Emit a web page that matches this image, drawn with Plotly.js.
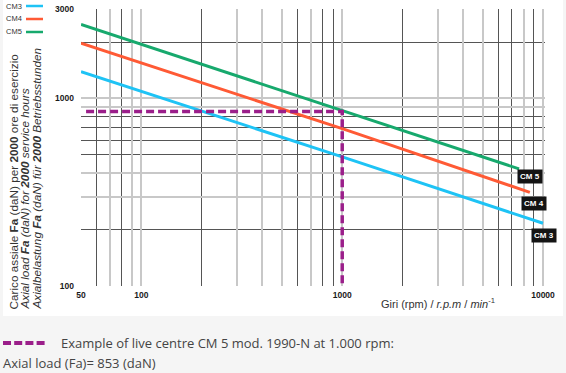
<!DOCTYPE html>
<html>
<head>
<meta charset="utf-8">
<script src="https://cdn.plot.ly/plotly-3.0.1.min.js"></script>
<style>
html,body{margin:0;padding:0;background:#f5f5f5;}
#chart{width:566px;height:373px;}
</style>
</head>
<body>
<div id="chart"></div>
<script>
// ---- data ----
const seriesNames = ['CM3', 'CM4', 'CM5'];
const seriesLabels = ['CM 3', 'CM 4', 'CM 5'];
const seriesColors = ['#1ec3f5', '#ff5a35', '#17a96d'];

const cm3Rpm = [50, 1000, 10000];
const cm3Load = [1390, 488, 216];
const cm4Rpm = [50, 1000, 8600];
const cm4Load = [1970, 690, 316];
const cm5Rpm = [50, 1000, 7600];
const cm5Load = [2480, 860, 421];

const exampleRpm = [53, 1000, 1000];
const exampleLoad = [853, 853, 100];
const exampleColor = '#9b1f8a';

const xLabelVals = [50, 100, 1000, 10000];
const xLightGrid = [70, 90, 300, 400, 500, 700, 3000, 4000, 5000, 8000];
const xDarkGrid = [60, 80, 200, 600, 800, 900, 2000, 6000, 7000, 9000];
const yLabelVals = [100, 1000, 3000];
const yLightGrid = [300, 400, 900];
const yDarkGrid = [200, 500, 600, 700, 800, 2000];

const xTitle = 'Giri (rpm) / <i>r.p.m</i> / <i>min</i><sup>-1</sup>';
const yTitleLines = [
  'Carico assiale <b>Fa</b> (daN) per <b>2000</b> ore di esercizio',
  '<i>Axial load <b>Fa</b> (daN) for <b>2000</b> service hours</i>',
  '<i>Axialbelastung <b>Fa</b> (daN) für <b>2000</b> Betriebsstunden</i>'
];
const noteLine1 = 'Example of live centre CM 5 mod. 1990-N at 1.000 rpm:';
const noteLine2 = 'Axial load (Fa)= 853 (daN)';

// ---- build ----
const rpmSets = [cm3Rpm, cm4Rpm, cm5Rpm];
const loadSets = [cm3Load, cm4Load, cm5Load];

const traces = seriesNames.map((n, i) => ({
  type: 'scatter', mode: 'lines', name: n,
  x: rpmSets[i], y: loadSets[i],
  line: {color: seriesColors[i], width: 3},
  showlegend: false, hoverinfo: 'skip'
}));
traces.push({
  type: 'scatter', mode: 'lines', x: exampleRpm, y: exampleLoad,
  line: {color: exampleColor, width: 3.5, dash: '8px,4px'},
  showlegend: false, hoverinfo: 'skip'
});

const L = 81, R = 21, T = 9, B = 87, W = 566, H = 373;
const pw = W - L - R, ph = H - T - B;
const px = v => (v - L) / pw;
const py = v => (H - B - v) / ph;

function mergeTicks(labelVals, lightVals) {
  const all = labelVals.concat(lightVals).sort((a, b) => a - b);
  return {vals: all, text: all.map(v => labelVals.includes(v) ? String(v) : '')};
}
const xt = mergeTicks(xLabelVals, xLightGrid);
const yt = mergeTicks(yLabelVals, yLightGrid);

const tickFont = {family: 'Liberation Sans, Arial, sans-serif', size: 8.5, color: '#1a1a1a', weight: 'bold'};

const annotations = [];
const shapes = [];

// white panel behind chart
shapes.push({type: 'rect', xref: 'paper', yref: 'paper', layer: 'below',
  x0: px(3), x1: px(563), y0: py(316), y1: py(-5),
  fillcolor: '#ffffff', line: {width: 0}});

// custom legend (text before line)
const legendY = [6, 19, 32];
seriesNames.forEach((n, i) => {
  annotations.push({xref: 'paper', yref: 'paper', x: px(4), y: py(legendY[i]),
    xanchor: 'left', yanchor: 'middle', showarrow: false, text: n,
    font: {family: 'Liberation Sans, Arial, sans-serif', size: 7.5, color: '#333'}});
  shapes.push({type: 'line', xref: 'paper', yref: 'paper',
    x0: px(26), x1: px(43), y0: py(legendY[i]), y1: py(legendY[i]),
    line: {color: seriesColors[i], width: 2.5}});
});

// end-of-line labels
const lblShift = [[1, -12], [4, -11], [11, -8]];
seriesLabels.forEach((t, i) => {
  const xs = rpmSets[i], ys = loadSets[i];
  annotations.push({x: Math.log10(xs[xs.length - 1]), y: Math.log10(ys[ys.length - 1]),
    xref: 'x', yref: 'y', showarrow: false, text: '<b>' + t + '</b>',
    xshift: lblShift[i][0], yshift: lblShift[i][1],
    bgcolor: '#141414', borderpad: 2,
    font: {family: 'Liberation Sans, Arial, sans-serif', size: 8, color: '#ffffff'}});
});

// y title (three rotated lines, bottom aligned)
const yTitleX = [12.5, 24, 35.5];
yTitleLines.forEach((t, i) => {
  annotations.push({xref: 'paper', yref: 'paper', x: px(yTitleX[i]), y: py(312),
    xanchor: 'center', yanchor: 'bottom', textangle: -90, showarrow: false,
    text: t, font: {family: 'Liberation Sans, Arial, sans-serif', size: 11.75, color: '#333'}});
});

// x title
annotations.push({xref: 'paper', yref: 'paper', x: px(379), y: py(303),
  xanchor: 'left', yanchor: 'middle', showarrow: false, text: xTitle,
  font: {family: 'Liberation Sans, Arial, sans-serif', size: 11, color: '#333'}});

// note below
shapes.push({type: 'line', xref: 'paper', yref: 'paper',
  x0: px(3), x1: px(45), y0: py(343), y1: py(343),
  line: {color: exampleColor, width: 4, dash: '8px,3.2px'}});
annotations.push({xref: 'paper', yref: 'paper', x: px(59), y: py(343),
  xanchor: 'left', yanchor: 'middle', showarrow: false, text: noteLine1,
  font: {family: 'Open Sans, sans-serif', size: 13, color: '#444'}});
annotations.push({xref: 'paper', yref: 'paper', x: px(1), y: py(363),
  xanchor: 'left', yanchor: 'middle', showarrow: false, text: noteLine2,
  font: {family: 'Open Sans, sans-serif', size: 13, color: '#444'}});

const layout = {
  width: W, height: H,
  margin: {l: L, r: R, t: T, b: B, pad: 0},
  paper_bgcolor: '#f5f5f5', plot_bgcolor: '#ffffff',
  showlegend: false,
  xaxis: {type: 'log', range: [Math.log10(50), 4.01],
    tickmode: 'array', tickvals: xt.vals, ticktext: xt.text, tickangle: 0,
    ticks: '', tickfont: tickFont, ticklabelstandoff: 2,
    showgrid: true, gridcolor: '#c8c8c8', gridwidth: 2,
    zeroline: false, showline: false,
    minor: {tickmode: 'array', tickvals: xDarkGrid, showgrid: true, gridcolor: '#555555', gridwidth: 1, ticks: ''}
  },
  yaxis: {type: 'log', range: [2, Math.log10(3000)],
    tickmode: 'array', tickvals: yt.vals, ticktext: yt.text, tickangle: 0,
    ticks: '', tickfont: tickFont, ticklabelstandoff: 6,
    showgrid: true, gridcolor: '#c8c8c8', gridwidth: 2,
    zeroline: false, showline: false,
    minor: {tickmode: 'array', tickvals: yDarkGrid, showgrid: true, gridcolor: '#555555', gridwidth: 1, ticks: ''}
  },
  shapes: shapes,
  annotations: annotations
};

Plotly.newPlot('chart', traces, layout, {staticPlot: true, displayModeBar: false});
</script>
</body>
</html>
